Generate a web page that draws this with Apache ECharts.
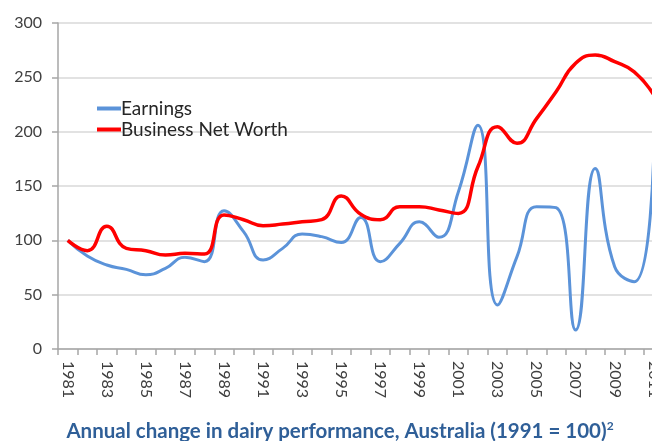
<!DOCTYPE html>
<html>
<head>
<meta charset="utf-8">
<script src="https://cdn.jsdelivr.net/npm/echarts@6/dist/echarts.min.js"></script>
<style>
html,body{margin:0;padding:0;background:#fff;}
#c{width:652px;height:441px;}
</style>
</head>
<body>
<div id="c"></div>
<script>
const years = ['1981','1982','1983','1984','1985','1986','1987','1988','1989','1990','1991','1992','1993','1994','1995','1996','1997','1998','1999','2000','2001','2002','2003','2004','2005','2006','2007','2008','2009','2010','2011'];
const earnings = [100,85.6,77.3,73.3,68.4,74.2,84.4,80.4,127.3,108,81.9,92.6,105.8,103.4,98,121,80.4,97.2,117,102.8,144.8,206,40.5,85,131,130,17.5,166,75.7,62,180];
const netWorth = [100,90.5,113,92.6,90.5,86.5,88,87.4,123.3,119,113.5,115,117,119,140.8,124,119,131,131,128,124.8,167.7,204.6,189.3,212,236.8,263,270.5,264.4,255,234];
const yTicks = [0,50,100,150,200,250,300];
const titleText = 'Annual change in dairy performance, Australia (1991 = 100)';

const chart = echarts.init(document.getElementById('c'), null, {renderer:'canvas'});
chart.setOption({
  animation:false,
  textStyle:{fontFamily:'Lato'},
  title:{
    text:'{t|'+titleText+'}{s|2}',
    left:335, textAlign:'center', top:415,
    textStyle:{rich:{
      t:{fontFamily:'Lato',fontWeight:'bold',fontSize:20.5,color:'#2f5f98',verticalAlign:'bottom',lineHeight:22},
      s:{fontFamily:'Lato',fontWeight:'bold',fontSize:12,color:'#2f5f98',verticalAlign:'top',lineHeight:22}
    }}
  },
  legend:{
    orient:'vertical', left:92, top:94, itemGap:2,
    icon:'rect', itemWidth:24, itemHeight:4,
    textStyle:{fontFamily:'Lato',fontSize:19,color:'#262626',padding:[0,0,0,-5]},
    data:['Earnings','Business Net Worth']
  },
  grid:{left:58, top:23, height:326, width:605.5, containLabel:false, outerBoundsMode:'none'},
  xAxis:{
    type:'category', data:years, boundaryGap:true,
    axisLine:{lineStyle:{color:'#a6a6a6',width:1.5}},
    axisTick:{show:true,interval:0,length:6,lineStyle:{color:'#a6a6a6',width:1.5}},
    axisLabel:{interval:1,rotate:-90,margin:12,fontFamily:'Lato',fontSize:16,color:'#404040'},
    splitLine:{show:false}
  },
  yAxis:{
    type:'value', min:yTicks[0], max:yTicks[yTicks.length-1], interval:50,
    axisLine:{show:true,lineStyle:{color:'#a6a6a6',width:1.5}},
    axisTick:{show:true,length:6,lineStyle:{color:'#a6a6a6',width:1.5}},
    axisLabel:{margin:16,fontFamily:'Lato',fontSize:16,color:'#404040'},
    splitLine:{lineStyle:{color:'#d9d9d9',width:1.5}}
  },
  series:[
    {name:'Earnings',type:'line',data:earnings,smooth:0.5,showSymbol:false,symbol:'none',
     lineStyle:{color:'#5b93d9',width:3},itemStyle:{color:'#5b93d9'},z:2},
    {name:'Business Net Worth',type:'line',data:netWorth,smooth:0.5,showSymbol:false,symbol:'none',
     lineStyle:{color:'#ff0000',width:3.5},itemStyle:{color:'#ff0000'},z:3}
  ]
});
</script>
</body>
</html>
